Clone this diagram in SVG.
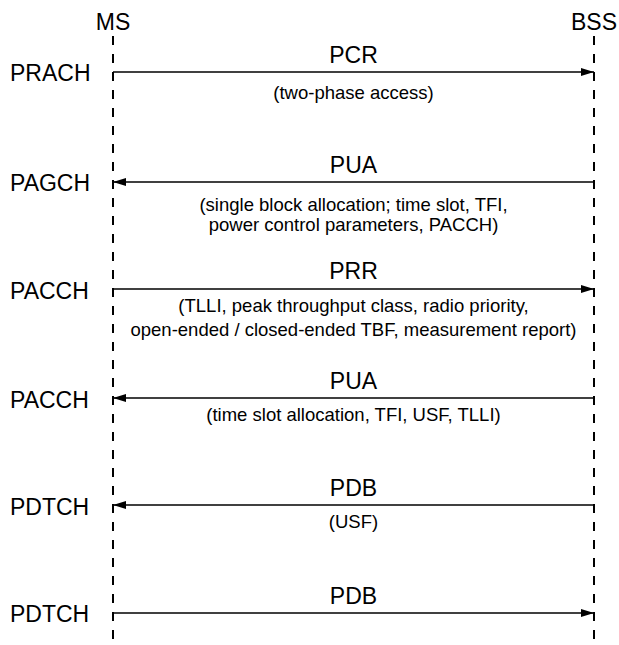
<svg xmlns="http://www.w3.org/2000/svg" width="619" height="645" viewBox="0 0 619 645">
<style>
text{font-family:"Liberation Sans",Arial,sans-serif;fill:#000}
.hd{font-size:23px;text-anchor:middle}
.ch{font-size:23px}
.msg{font-size:23px;text-anchor:middle}
.sub{font-size:18.5px;text-anchor:middle}
.life{stroke:#000;stroke-width:2;stroke-dasharray:9 9;fill:none}
.arr{stroke:#000;stroke-width:1.6;fill:none}
</style>
<defs>
<marker id="ah" markerWidth="13" markerHeight="8" refX="13" refY="4" orient="auto" markerUnits="userSpaceOnUse">
<path d="M0,0 L13,4 L0,8 Z" fill="#000"/>
</marker>
</defs>
<rect width="619" height="645" fill="#fff"/>
<g id="ms">
<text class="hd" x="113" y="30">MS</text>
<line class="life" x1="113" y1="36" x2="113" y2="645"/>
</g>
<g id="bss">
<text class="hd" x="594" y="30">BSS</text>
<line class="life" x1="594" y1="36" x2="594" y2="645"/>
</g>
<g id="channels">
<text class="ch" x="10" y="81">PRACH</text>
<text class="ch" x="10" y="191">PAGCH</text>
<text class="ch" x="10" y="299">PACCH</text>
<text class="ch" x="10" y="408">PACCH</text>
<text class="ch" x="10" y="515">PDTCH</text>
<text class="ch" x="10" y="622">PDTCH</text>
</g>
<g id="connectors">
<line class="arr" x1="113" y1="72" x2="594" y2="72" marker-end="url(#ah)"/>
<line class="arr" x1="594" y1="182" x2="113" y2="182" marker-end="url(#ah)"/>
<line class="arr" x1="113" y1="289" x2="594" y2="289" marker-end="url(#ah)"/>
<line class="arr" x1="594" y1="398" x2="113" y2="398" marker-end="url(#ah)"/>
<line class="arr" x1="594" y1="505" x2="113" y2="505" marker-end="url(#ah)"/>
<line class="arr" x1="113" y1="613" x2="594" y2="613" marker-end="url(#ah)"/>
</g>
<g id="labels">
<text class="msg" x="353.5" y="63">PCR</text>
<text class="sub" x="353.5" y="99">(two-phase access)</text>
<text class="msg" x="353.5" y="173">PUA</text>
<text class="sub" x="353.5" y="211">(single block allocation; time slot, TFI,</text>
<text class="sub" x="353.5" y="231">power control parameters, PACCH)</text>
<text class="msg" x="353.5" y="279">PRR</text>
<text class="sub" x="353.5" y="312">(TLLI, peak throughput class, radio priority,</text>
<text class="sub" x="353.5" y="336">open-ended / closed-ended TBF, measurement report)</text>
<text class="msg" x="353.5" y="389">PUA</text>
<text class="sub" x="353.5" y="421">(time slot allocation, TFI, USF, TLLI)</text>
<text class="msg" x="353.5" y="496">PDB</text>
<text class="sub" x="353.5" y="528">(USF)</text>
<text class="msg" x="353.5" y="604">PDB</text>
</g>
</svg>
